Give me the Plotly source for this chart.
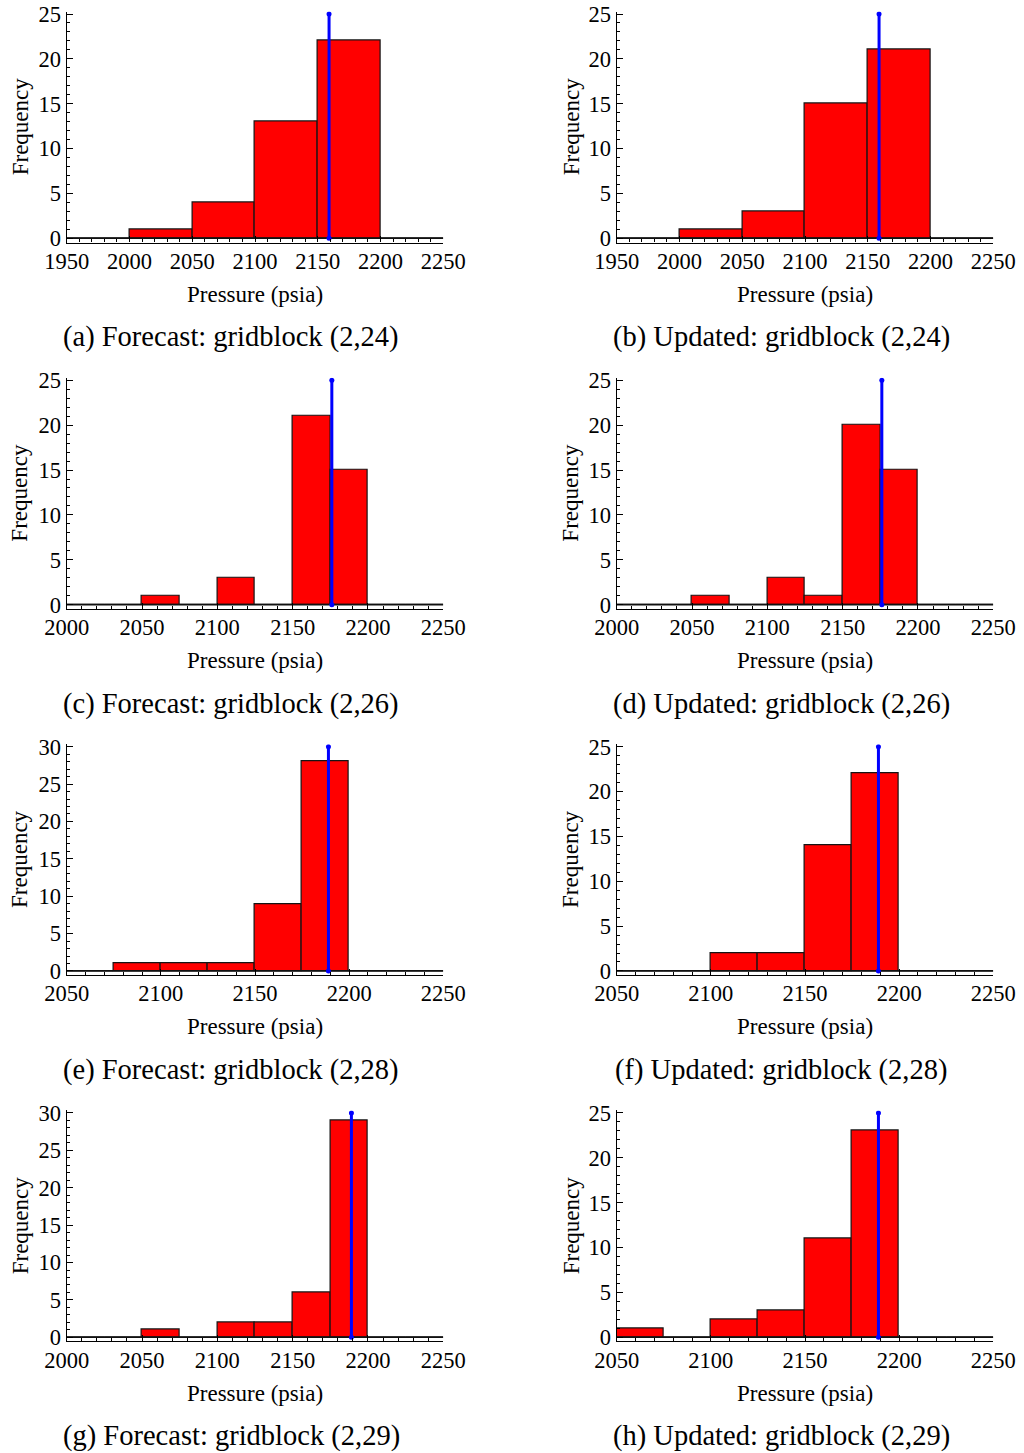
import plotly.graph_objects as go

# Histogram counts of ensemble pressures (40 members per panel)
freq_forecast_224 = [0, 1, 4, 13, 22, 0]
freq_updated_224 = [0, 1, 3, 15, 21, 0]
freq_forecast_226 = [0, 0, 1, 0, 3, 0, 21, 15, 0, 0]
freq_updated_226 = [0, 0, 1, 0, 3, 1, 20, 15, 0, 0]
freq_forecast_228 = [0, 1, 1, 1, 9, 28, 0, 0]
freq_updated_228 = [0, 0, 2, 2, 14, 22, 0, 0]
freq_forecast_229 = [0, 0, 1, 0, 2, 2, 6, 29, 0, 0]
freq_updated_229 = [1, 0, 2, 3, 11, 23, 0, 0]

# First bin edge and bin width (psia) of each histogram
bin_start = [1950, 1950, 2000, 2000, 2050, 2050, 2000, 2050]
bin_width = [50, 50, 25, 25, 25, 25, 25, 25]

# Reference (true) pressure of each gridblock, psia
true_pressure = [2159, 2159, 2176, 2176, 2189, 2189, 2189, 2189]

# Axis extents
x_range = [[1950, 2250], [1950, 2250], [2000, 2250], [2000, 2250],
           [2050, 2250], [2050, 2250], [2000, 2250], [2050, 2250]]
y_max = [25, 25, 25, 25, 30, 25, 30, 25]

captions = [
    "(a) Forecast: gridblock (2,24)", "(b) Updated: gridblock (2,24)",
    "(c) Forecast: gridblock (2,26)", "(d) Updated: gridblock (2,26)",
    "(e) Forecast: gridblock (2,28)", "(f) Updated: gridblock (2,28)",
    "(g) Forecast: gridblock (2,29)", "(h) Updated: gridblock (2,29)",
]

frequencies = [freq_forecast_224, freq_updated_224, freq_forecast_226, freq_updated_226,
               freq_forecast_228, freq_updated_228, freq_forecast_229, freq_updated_229]

W, H = 1024, 1453
FONT = "Liberation Serif"
COL_LEFT = [66.7, 616.7]
PLOT_W = 376.6
ZERO_Y0 = 238.3
ROW_STEP = 366.33
DATA_H = 224.3
GAP_BELOW = 4.2
GAP_ABOVE = 2.5
CAPTION_X = [231, 781]
YLABEL_X = [20, 571]

fig = go.Figure()
annotations = []

for i in range(8):
    row, col = divmod(i, 2)
    ax = "" if i == 0 else str(i + 1)
    xref, yref = "x" + ax, "y" + ax

    left = COL_LEFT[col]
    zero_px = ZERO_Y0 + ROW_STEP * row
    unit = DATA_H / y_max[i]
    top_px = zero_px - DATA_H - GAP_ABOVE
    bot_px = zero_px + GAP_BELOW

    counts = frequencies[i]
    w = bin_width[i]
    edges = [bin_start[i] + k * w for k in range(len(counts) + 1)]
    centers = [bin_start[i] + (k + 0.5) * w for k in range(len(counts))]

    # zero-height bins show as a flat outline along the baseline
    fig.add_trace(go.Scatter(
        x=[edges[0], edges[-1]], y=[0, 0], mode="lines",
        line=dict(color="#111111", width=1.6),
        xaxis=xref, yaxis=yref, showlegend=False, hoverinfo="skip"))

    fig.add_trace(go.Bar(
        x=centers, y=counts, width=[w] * len(counts),
        marker=dict(color="#FF0000", line=dict(color="#141414", width=1.2)),
        xaxis=xref, yaxis=yref, showlegend=False))

    # vertical marker for the true pressure
    fig.add_trace(go.Scatter(
        x=[true_pressure[i], true_pressure[i]], y=[0, y_max[i]],
        mode="lines+markers",
        line=dict(color="#0000FF", width=3),
        marker=dict(color="#0000FF", size=5),
        xaxis=xref, yaxis=yref, showlegend=False, hoverinfo="skip"))

    axis_font = dict(family=FONT, size=22.5, color="black")
    fig.layout["xaxis" + ax] = dict(
        domain=[left / W, (left + PLOT_W) / W],
        range=x_range[i], anchor=yref, automargin=False,
        showline=True, linecolor="black", linewidth=1.2,
        ticks="inside", ticklen=6, tickwidth=1, tickcolor="black",
        dtick=50, tick0=0, ticklabelstandoff=-2,
        minor=dict(ticks="inside", ticklen=3, tickwidth=1, tickcolor="black", dtick=10),
        showgrid=False, zeroline=False, tickfont=axis_font,
        fixedrange=True,
    )
    fig.layout["yaxis" + ax] = dict(
        domain=[1 - bot_px / H, 1 - top_px / H],
        range=[-GAP_BELOW / unit, y_max[i] + GAP_ABOVE / unit], anchor=xref,
        automargin=False,
        showline=True, linecolor="black", linewidth=1.2,
        ticks="inside", ticklen=6, tickwidth=1, tickcolor="black",
        dtick=5, tick0=0,
        minor=dict(ticks="inside", ticklen=3, tickwidth=1, tickcolor="black", dtick=1),
        showgrid=False, zeroline=False, tickfont=axis_font,
        fixedrange=True,
    )

    annotations.append(dict(
        text="Pressure (psia)", x=(left + PLOT_W / 2) / W, y=1 - (zero_px + 56) / H,
        xref="paper", yref="paper", showarrow=False, xanchor="center", yanchor="middle",
        font=dict(family=FONT, size=23, color="black")))
    annotations.append(dict(
        text="Frequency", x=YLABEL_X[col] / W, y=1 - (zero_px - 112) / H,
        xref="paper", yref="paper", showarrow=False, textangle=-90,
        xanchor="center", yanchor="middle",
        font=dict(family=FONT, size=23, color="black")))
    annotations.append(dict(
        text=captions[i], x=CAPTION_X[col] / W, y=1 - (zero_px + 99) / H,
        xref="paper", yref="paper", showarrow=False, xanchor="center", yanchor="middle",
        font=dict(family=FONT, size=28.5, color="black")))

fig.update_layout(
    width=W, height=H,
    margin=dict(l=0, r=0, t=0, b=0, autoexpand=False),
    paper_bgcolor="white", plot_bgcolor="white",
    barmode="overlay", bargap=0,
    annotations=annotations,
    showlegend=False,
)

fig.write_html("out.html", config={"displayModeBar": False})
